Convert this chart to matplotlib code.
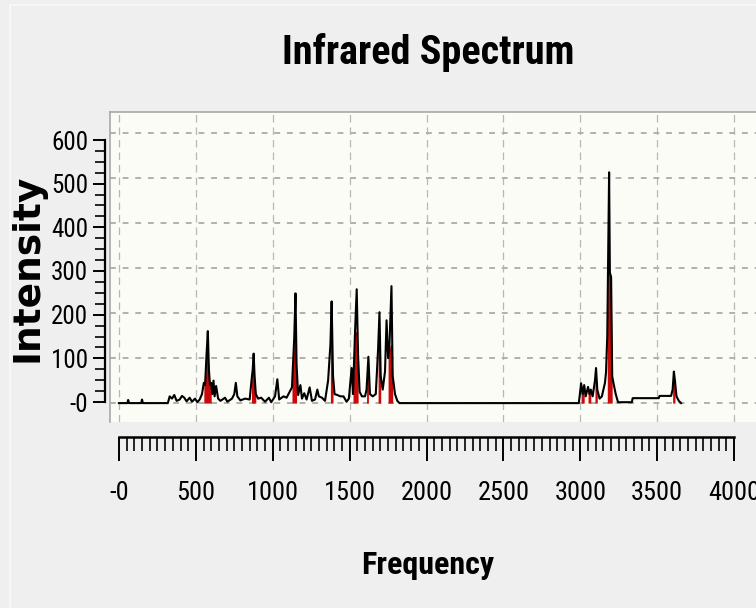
import numpy as np
import matplotlib
matplotlib.use("Agg")
import matplotlib.pyplot as plt
from matplotlib import font_manager
from matplotlib.patches import Rectangle
from matplotlib.ticker import MultipleLocator

# spectrum trace (frequency, intensity)
freq = [0, 55, 60, 66, 145, 150, 156, 318, 330, 345, 360, 375, 395, 410, 425, 440,
        460, 475, 495, 510, 525, 540, 552, 560, 570, 578, 585, 592, 600, 607, 615,
        622, 632, 645, 660, 690, 705, 735, 750, 760, 770, 790, 820, 850, 862, 870,
        876, 882, 890, 905, 925, 950, 975, 990, 1015, 1030, 1042, 1070, 1090, 1110,
        1125, 1140, 1148, 1155, 1165, 1180, 1190, 1205, 1220, 1240, 1255, 1275,
        1290, 1300, 1320, 1340, 1360, 1375, 1383, 1392, 1402, 1420, 1440, 1460,
        1480, 1495, 1513, 1522, 1535, 1546, 1555, 1565, 1580, 1600, 1610, 1622,
        1632, 1650, 1670, 1685, 1694, 1702, 1715, 1730, 1740, 1750, 1758, 1766,
        1772, 1780, 1795, 1810, 1824, 2990, 3005, 3015, 3025, 3035, 3050, 3060,
        3068, 3080, 3095, 3102, 3110, 3125, 3140, 3160, 3167, 3175, 3180, 3187,
        3192, 3200, 3207, 3215, 3230, 3245, 3335, 3340, 3510, 3515, 3590, 3600,
        3608, 3615, 3625, 3640, 3655]
inten = [0, 0, 7, 0, 0, 8, 0, 0, 15, 10, 18, 5, 8, 16, 12, 4,
         12, 3, 10, 2, 8, 20, 45, 40, 110, 160, 75, 40, 45, 20, 50,
         15, 38, 10, 5, 12, 3, 10, 20, 45, 15, 6, 10, 8, 50, 75,
         110, 60, 20, 10, 12, 3, 12, 2, 15, 53, 8, 15, 12, 25,
         35, 147, 244, 85, 18, 40, 10, 22, 8, 35, 5, 8,
         30, 15, 12, 5, 50, 130, 226, 60, 20, 18, 15, 15,
         3, 10, 78, 20, 157, 253, 105, 25, 15, 15, 30, 103,
         20, 15, 20, 120, 202, 60, 30, 70, 184, 100, 120, 200,
         260, 60, 20, 5, 0, 0, 44, 20, 40, 15, 36, 20,
         30, 15, 50, 78, 30, 10, 15, 45, 69, 150, 300, 513,
         290, 280, 60, 45, 20, 2, 2, 11, 11, 16, 16, 30,
         70, 50, 15, 5, 0]

# red filled bands under the strong modes: (from, to, top)
red_bands = [(545, 600, 115), (858, 890, 110), (1125, 1160, 150), (1362, 1398, 130),
             (1518, 1558, 160), (1606, 1630, 95), (1678, 1706, 120), (1750, 1782, 130),
             (2998, 3032, 44), (3044, 3070, 36), (3092, 3110, 70), (3170, 3207, 300),
             (3598, 3622, 65)]

x_ticks = [0, 500, 1000, 1500, 2000, 2500, 3000, 3500, 4000]
x_labels = ["-0", "500", "1000", "1500", "2000", "2500", "3000", "3500", "4000"]
y_ticks = [0, 100, 200, 300, 400, 500, 600]
y_labels = ["-0", "100", "200", "300", "400", "500", "600"]

# a condensed face if one is installed, else plain Liberation Sans a bit smaller
names = {f.name for f in font_manager.fontManager.ttflist}
narrow, k = "Liberation Sans", 0.82
for cand in ["Liberation Sans Narrow", "Roboto Condensed", "Open Sans Condensed",
             "DejaVu Sans Condensed"]:
    if cand in names:
        narrow, k = cand, 1.0
        break

W, H = 756, 608
fig = plt.figure(figsize=(W / 100, H / 100), dpi=100, facecolor="#efefef")
# faint window border
fig.add_artist(Rectangle((10 / W, -0.1), 1.2, 1.1 - 5 / H, transform=fig.transFigure,
                         fill=False, edgecolor="#f7f7f7", lw=1.5))

# main plot area
ax = fig.add_axes([110 / W, 1 - 422 / H, 1 - 110 / W, 310 / H])
ax.set_facecolor("#fcfcf6")
ax.set_xlim(-58, 4142)
ax.set_ylim(-42, 647)
for g in x_ticks:
    ax.axvline(g, color="#b8b8b8", lw=0.9, ls=(0, (6, 4)), zorder=0)
for g in y_ticks:
    ax.axhline(g, color="#b0b0b0", lw=1.4, ls=(0, (3, 3.5)), zorder=0)

f = np.array(freq, dtype=float)
y = np.array(inten, dtype=float)
for lo, hi, top in red_bands:
    m = (f >= lo) & (f <= hi)
    ax.fill_between(f[m], 0, np.minimum(y[m], top), color="#c80a0a", lw=0, zorder=2)
ax.plot(f, y, color="black", lw=1.5, zorder=3)

ax.set_xticks([])
ax.set_yticks([])
for s in ["right", "bottom"]:
    ax.spines[s].set_visible(False)
for s in ["top", "left"]:
    ax.spines[s].set_color("#a8a8a8")
    ax.spines[s].set_linewidth(1.2)

# x ruler under the plot
axx = fig.add_axes([119 / W, 1 - 437 / H, 615 / W, 0.0001])
axx.set_xlim(0, 4000)
axx.patch.set_visible(False)
for s in ["top", "left", "right"]:
    axx.spines[s].set_visible(False)
axx.spines["bottom"].set_linewidth(1.8)
axx.set_yticks([])
axx.set_xticks(x_ticks)
axx.set_xticklabels(x_labels, family=narrow, fontsize=19 * k)
axx.xaxis.set_minor_locator(MultipleLocator(50))
axx.tick_params(axis="x", which="major", length=17, width=1.4, pad=15)
axx.tick_params(axis="x", which="minor", length=10, width=1.2)

# y ruler left of the plot
axy = fig.add_axes([105 / W, 1 - 402 / H, 0.0001, 262 / H])
axy.set_ylim(0, 600)
axy.patch.set_visible(False)
for s in ["top", "bottom", "right"]:
    axy.spines[s].set_visible(False)
axy.spines["left"].set_linewidth(1.6)
axy.set_xticks([])
axy.set_yticks(y_ticks)
axy.set_yticklabels(y_labels, family=narrow, fontsize=18 * k)
axy.yaxis.set_minor_locator(MultipleLocator(25))
axy.tick_params(axis="y", which="major", length=9, width=1.4, pad=3)
axy.tick_params(axis="y", which="minor", length=7, width=1.2)

fig.text(428 / W, 1 - 52 / H, "Infrared Spectrum", family=narrow, weight="bold",
         fontsize=29 * k, ha="center", va="center")
fig.text(428 / W, 1 - 565 / H, "Frequency", family=narrow, weight="bold",
         fontsize=23 * k, ha="center", va="center")
fig.text(28 / W, 1 - 268 / H, "Intensity", family="DejaVu Sans", weight="bold",
         fontsize=27, rotation=90, ha="center", va="center")

fig.savefig("out.png", dpi=100, facecolor=fig.get_facecolor())
